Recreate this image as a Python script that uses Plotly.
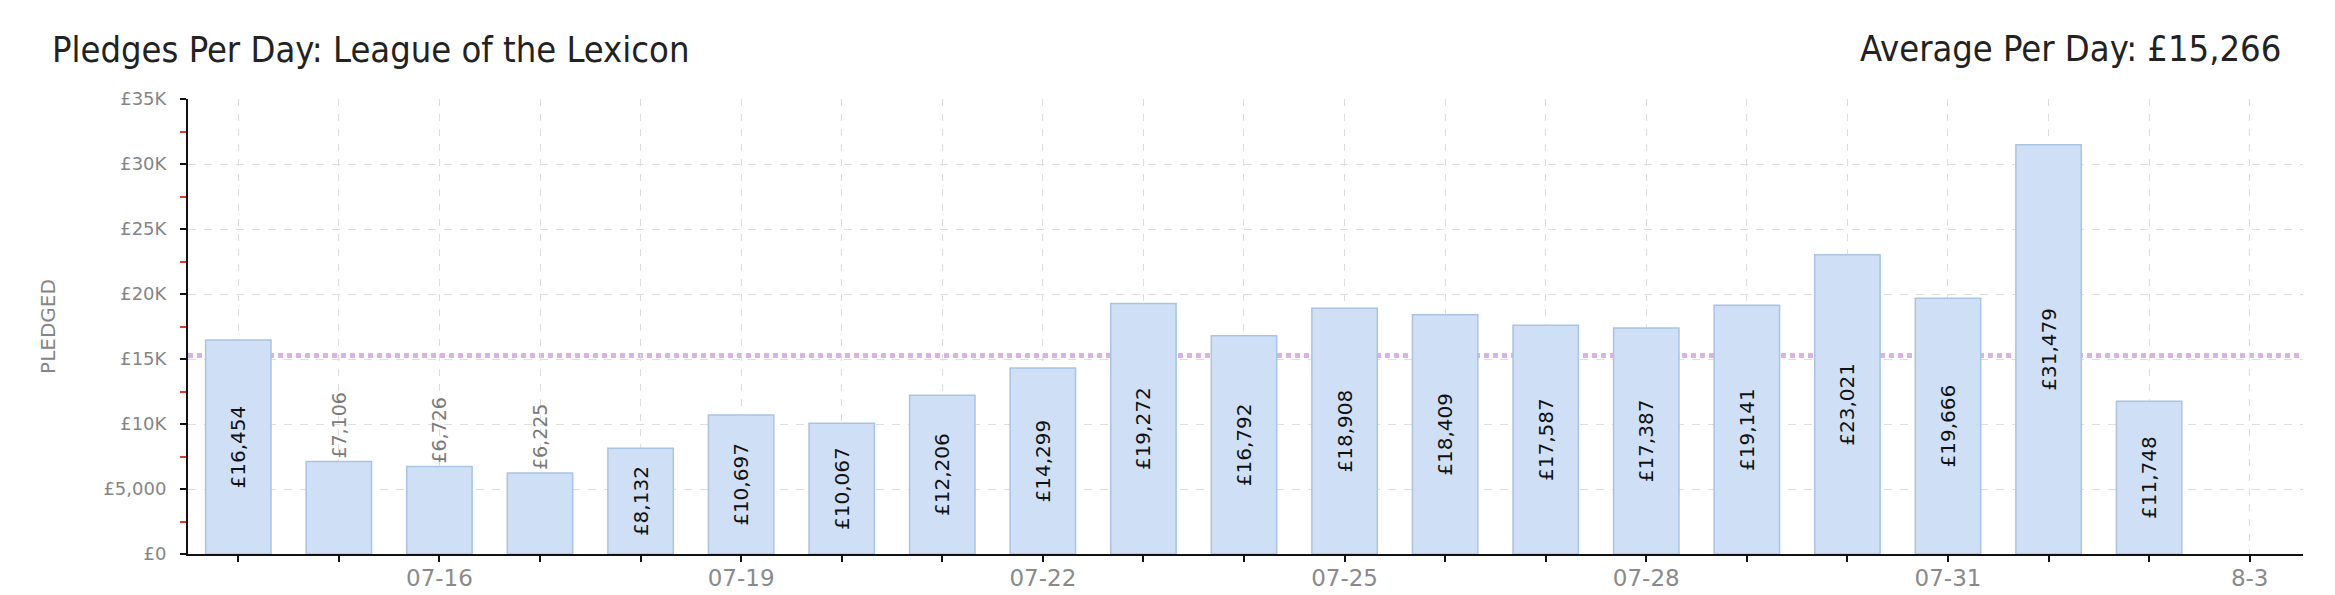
import plotly.graph_objects as go

# ---- data ----
days = ["07-14", "07-15", "07-16", "07-17", "07-18", "07-19", "07-20",
        "07-21", "07-22", "07-23", "07-24", "07-25", "07-26", "07-27",
        "07-28", "07-29", "07-30", "07-31", "08-01", "08-02"]
pledged = [16454, 7106, 6726, 6225, 8132, 10697, 10067, 12206, 14299,
           19272, 16792, 18908, 18409, 17587, 17387, 19141, 23021, 19666,
           31479, 11748]
axis_days = days + ["08-03"]
axis_labels = ["", "", "07-16", "", "", "07-19", "", "", "07-22", "", "",
               "07-25", "", "", "07-28", "", "", "07-31", "", "", "8-3"]
y_tick_vals = [0, 5000, 10000, 15000, 20000, 25000, 30000, 35000]
y_tick_labels = ["£0", "£5,000", "£10K", "£15K", "£20K", "£25K", "£30K", "£35K"]

title_text = "Pledges Per Day: League of the Lexicon"
avg = sum(pledged) / len(pledged)
avg_text = f"Average Per Day: £{avg:,.0f}"

# ---- geometry / styling ----
W, H = 2335, 595
L, R, T, B = 180, 40, 91, 49
x_pos = list(range(len(days)))
tick_pos = list(range(len(axis_days)))

TICK_FONT = "DejaVu Sans, Verdana, sans-serif"
TITLE_FONT = "DejaVu Sans Condensed, Liberation Sans Narrow, Roboto Condensed, DejaVu Sans, sans-serif"

text_pos = ["inside" if v >= 8000 else "outside" for v in pledged]

fig = go.Figure()
fig.add_trace(go.Bar(
    x=x_pos, y=pledged, width=0.65,
    marker=dict(color="#cfe0f6", line=dict(color="#a9c3e3", width=1.5)),
    text=[f"£{v:,}" for v in pledged],
    textposition=text_pos,
    textangle=-90,
    insidetextanchor="middle",
    insidetextfont=dict(family=TICK_FONT, size=20, color="#111111"),
    outsidetextfont=dict(family=TICK_FONT, size=19, color="#7a7a7a"),
    constraintext="none",
    cliponaxis=False,
    hoverinfo="skip",
    showlegend=False,
))

fig.add_hline(y=avg, line=dict(color="#dab2e6", width=5, dash="5px,4px"),
              layer="below")

fig.update_layout(
    width=W, height=H,
    margin=dict(l=L, r=R, t=T, b=B, pad=0),
    paper_bgcolor="white", plot_bgcolor="white",
    bargap=0.35,
    title=dict(text=title_text, xref="container", x=44 / W, xanchor="left",
               yref="container", y=1 - 41 / H, yanchor="middle",
               font=dict(family=TITLE_FONT, size=36, color="#222222")),
    annotations=[dict(text=avg_text, xref="paper", yref="paper",
                      x=(2275 - L) / (W - L - R), xanchor="right",
                      y=(H - B - 41) / (H - T - B), yanchor="middle",
                      showarrow=False,
                      font=dict(family=TITLE_FONT, size=36, color="#222222"))],
    xaxis=dict(
        range=[-0.5, 20.53],
        tickmode="array", tickvals=tick_pos, ticktext=axis_labels,
        showline=True, linecolor="#111111", linewidth=2,
        ticks="outside", ticklen=6, tickwidth=2, tickcolor="#111111",
        showgrid=True, gridcolor="#dddddd", gridwidth=1, griddash="7px,8px",
        tickfont=dict(family=TICK_FONT, size=23, color="#8a8a8a"),
        ticklabelstandoff=-4,
        zeroline=False, fixedrange=True,
    ),
    yaxis=dict(
        range=[0, 35000],
        tickmode="array", tickvals=y_tick_vals, ticktext=y_tick_labels,
        showline=True, linecolor="#111111", linewidth=2,
        ticks="outside", ticklen=6, tickwidth=2, tickcolor="#111111",
        minor=dict(dtick=2500, tick0=0, ticks="outside", ticklen=6,
                   tickwidth=2, tickcolor="#e8382a", showgrid=False),
        showgrid=True, gridcolor="#dddddd", gridwidth=1, griddash="8px,8px",
        tickfont=dict(family=TICK_FONT, size=18, color="#858585"),
        ticklabelstandoff=10,
        title=dict(text="PLEDGED", standoff=42,
                   font=dict(family=TICK_FONT, size=20, color="#858585")),
        zeroline=False, fixedrange=True,
    ),
)

fig.write_html("out.html")
